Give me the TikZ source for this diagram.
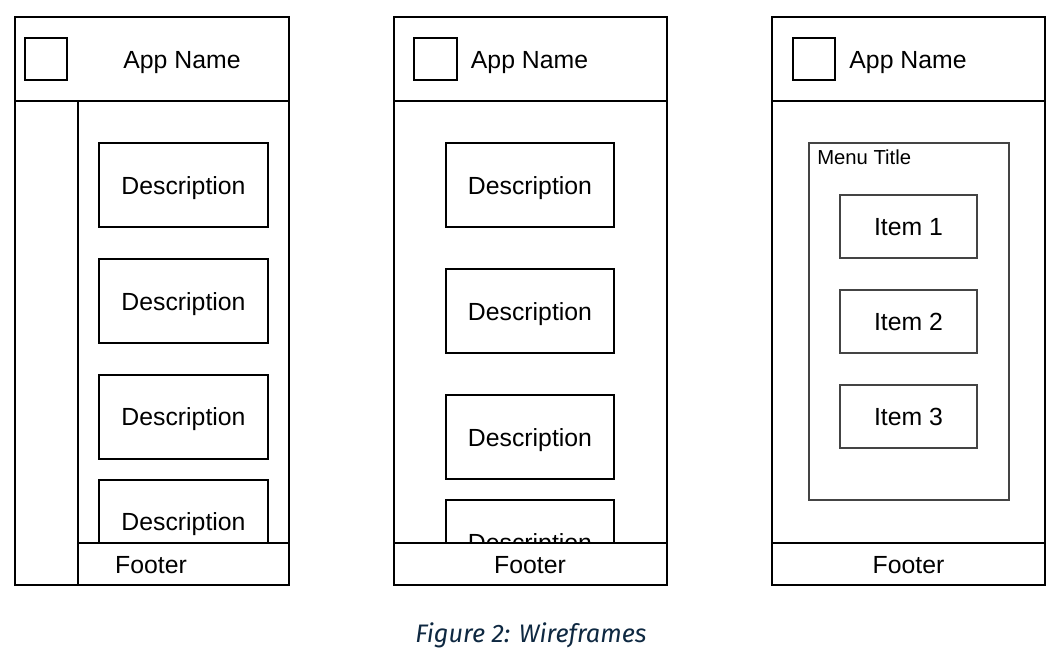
\documentclass[tikz,border=0pt]{standalone}
\usepackage{fontspec}
\setmainfont{Liberation Sans}
\newfontfamily\capfont{Fira Sans}
\definecolor{capblue}{HTML}{0E2841}
\definecolor{menugray}{HTML}{444444}
\newcommand\wb[6]{\node[#6, minimum width={(#4-#2)*0.75pt}, minimum height={(#5-#3)*0.75pt}] (#1) at ({(#2+#4)/2},{(#3+#5)/2}) {};}
\tikzset{
  box/.style={draw, line width=1.3pt, inner sep=0pt, fill=white},
  gbox/.style={draw=menugray, line width=1.3pt, inner sep=0pt},
  lbl/.style={inner sep=0pt, text height=13.3pt, text depth=0pt, font=\fontsize{18.6pt}{20pt}\selectfont},
  small/.style={inner sep=0pt, text height=10.9pt, text depth=0pt, font=\fontsize{15.2pt}{17pt}\selectfont},
}
\begin{document}
\begin{tikzpicture}[x=0.75pt,y=-0.75pt]
\useasboundingbox (0,0) rectangle (1063,662);
% ---------- Phone 1 ----------
\wb{p1body}{15}{101}{289}{585}{box}
\wb{p1head}{15}{17}{289}{101}{box}
\wb{p1icon}{25}{38}{67}{80}{box}
\node[lbl] (p1name) at (182,60) {App Name};
\draw[line width=1.3pt] (78,101) coordinate (p1s) -- (78,585) coordinate (p1e);
\wb{p1d1}{99}{143}{268}{227}{box}
\node[lbl] (p1d1t) at (183.5,186) {Description};
\wb{p1d2}{99}{259}{268}{343}{box}
\node[lbl] (p1d2t) at (183.5,302) {Description};
\wb{p1d3}{99}{375}{268}{459}{box}
\node[lbl] (p1d3t) at (183.5,417) {Description};
\wb{p1d4}{99}{480}{268}{564}{box}
\node[lbl] (p1d4t) at (183.5,522) {Description};
\wb{p1foot}{78}{543}{289}{585}{box}
\node[lbl] (p1ft) at (151,565) {Footer};
% ---------- Phone 2 ----------
\wb{p2body}{394}{101}{667}{585}{box}
\wb{p2head}{394}{17}{667}{101}{box}
\wb{p2icon}{414}{38}{457}{80}{box}
\node[lbl] (p2name) at (529.5,60) {App Name};
\wb{p2d1}{446}{143}{614}{227}{box}
\node[lbl] (p2d1t) at (530,186) {Description};
\wb{p2d2}{446}{269}{614}{353}{box}
\node[lbl] (p2d2t) at (530,312) {Description};
\wb{p2d3}{446}{395}{614}{479}{box}
\node[lbl] (p2d3t) at (530,438) {Description};
\begin{scope}
\clip (440,490) rectangle (620,543);
\wb{p2d4}{446}{500}{614}{584}{box}
\node[lbl] (p2d4t) at (530,543) {Description};
\end{scope}
\wb{p2foot}{394}{543}{667}{585}{box}
\node[lbl] (p2ft) at (530,565) {Footer};
% ---------- Phone 3 ----------
\wb{p3body}{772}{101}{1045}{585}{box}
\wb{p3head}{772}{17}{1045}{101}{box}
\wb{p3icon}{793}{38}{835}{80}{box}
\node[lbl] (p3name) at (908,60) {App Name};
\wb{p3menu}{809}{143}{1009}{500}{gbox}
\node[small, anchor=west] (p3mt) at (817,157) {Menu Title};
\wb{p3i1}{840}{195}{977}{258}{gbox}
\node[lbl] (p3i1t) at (908.5,227) {Item 1};
\wb{p3i2}{840}{290}{977}{353}{gbox}
\node[lbl] (p3i2t) at (908.5,322) {Item 2};
\wb{p3i3}{840}{385}{977}{448}{gbox}
\node[lbl] (p3i3t) at (908.5,417) {Item 3};
\wb{p3foot}{772}{543}{1045}{585}{box}
\node[lbl] (p3ft) at (908.5,565) {Footer};
% ---------- Caption ----------
\node[inner sep=0pt, text=capblue, font=\capfont\itshape\fontsize{19pt}{22pt}\selectfont] (cap) at (531,635) {Figure 2: Wireframes};
\end{tikzpicture}
\end{document}
